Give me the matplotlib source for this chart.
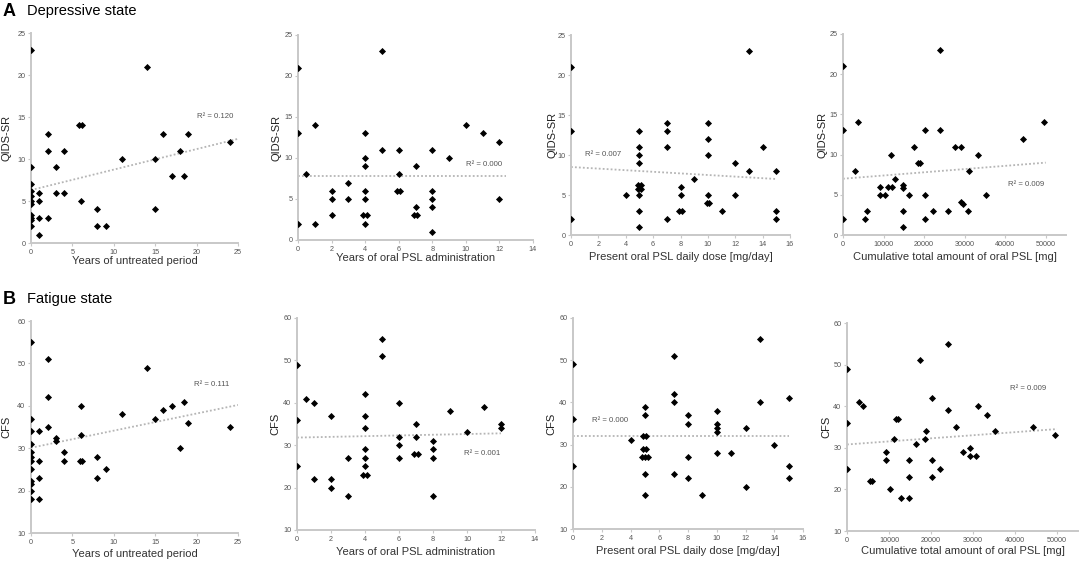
import numpy as np
import matplotlib
matplotlib.use("Agg")
import matplotlib.pyplot as plt

plt.rcParams['font.family'] = ['Liberation Sans', 'DejaVu Sans']

# ---- data ----
# A: QIDS-SR
untreated_a_x = [0, 0, 0, 0, 0, 0, 0, 0, 0, 0, 0,
                 1, 1, 1, 1, 2, 2, 2, 3, 3, 4, 4, 5.8, 6.2, 6,
                 8, 8, 9, 11, 14, 15, 15, 16, 17, 18, 18.5, 19, 24]
untreated_a_y = [23, 9, 7, 6.2, 5.6, 5, 4.6, 3.3, 3, 2.7, 2,
                 6, 5, 3, 1, 13, 11, 3, 9, 6, 11, 6, 14, 14, 5,
                 4, 2, 2, 10, 21, 10, 4, 13, 8, 11, 8, 13, 12]

oral_a_x = [0, 0, 0, 0.5, 1, 1, 2, 2, 2, 3, 3,
            3.9, 4.1, 4, 4, 4, 4, 4, 4, 5, 5, 6, 6, 5.9, 6.1,
            7, 7, 6.9, 7.1, 8, 8, 8, 8, 8, 9, 10, 11, 12, 12]
oral_a_y = [21, 13, 2, 8, 14, 2, 6, 5, 3, 7, 5,
            3, 3, 13, 10, 9, 6, 5, 2, 23, 11, 11, 8, 6, 6,
            9, 4, 3, 3, 11, 6, 5, 4, 1, 10, 14, 13, 12, 5]

dose_a_x = [0, 0, 0, 4, 5, 5, 5, 5, 4.9, 5.1, 4.9, 5.1, 5, 5, 5,
            7, 7, 7, 7, 8, 8, 7.9, 8.1, 9, 10, 10, 10, 10, 9.9, 10.1,
            11, 12, 12, 13, 13, 14, 15, 15, 15]
dose_a_y = [21, 13, 2, 5, 13, 11, 10, 9, 6.2, 6.2, 5.8, 5.8, 5, 3, 1,
            14, 13, 11, 2, 6, 5, 3, 3, 7, 14, 12, 10, 5, 4, 4,
            3, 9, 5, 23, 8, 11, 8, 3, 2]

cum_a_x = [0, 0, 0, 2900, 3700, 5500, 5900, 9200, 9200, 10400, 11100,
           11900, 12200, 12900, 14750, 14750, 14750, 14750, 16300, 17500,
           18400, 18900, 20300, 20300, 20300, 22300, 24000, 24000, 25900,
           27700, 29200, 29100, 29600, 30800, 31100, 33300, 35200, 44400, 49500]
cum_a_y = [21, 13, 2, 8, 14, 2, 3, 6, 5, 5, 6,
           10, 6, 7, 6.2, 5.8, 3, 1, 5, 11,
           8.9, 9, 13, 5, 2, 3, 23, 13, 3,
           11, 11, 4.1, 3.9, 3, 8, 10, 5, 12, 14]

# B: CFS
untreated_b_x = [0, 0, 0, 0, 0, 0, 0, 0, 0, 0, 0, 0,
                 1, 1, 1, 1, 2, 2, 2, 3, 3, 4, 4, 6, 6, 5.9, 6.1,
                 8, 8, 9, 11, 14, 15, 16, 17, 18, 18.5, 19, 24]
untreated_b_y = [55, 37, 34, 31, 29, 28, 27, 25, 22.3, 21.5, 20, 18,
                 34, 27, 23, 18, 51, 42, 35, 32.3, 31.7, 29, 27, 40, 33, 27, 27,
                 28, 23, 25, 38, 49, 37, 39, 40, 30, 41, 36, 35]

oral_b_x = [0, 0, 0, 0.5, 1, 1, 2, 2, 2, 3, 3,
            4, 4, 4, 4, 4, 4, 3.9, 4.1, 5, 5, 6, 6, 6, 6,
            7, 7, 6.9, 7.1, 8, 8, 8, 8, 9, 10, 11, 12, 12]
oral_b_y = [49, 36, 25, 41, 40, 22, 37, 22, 20, 27, 18,
            42, 37, 34, 29, 27, 25, 23, 23, 55, 51, 40, 32, 30, 27,
            35, 32, 28, 28, 31, 29, 27, 18, 38, 33, 39, 35, 34]

dose_b_x = [0, 0, 0, 4, 5, 5, 4.9, 5.1, 4.9, 5.1, 4.8, 5, 5.2, 5, 5,
            7, 7, 7, 7, 8, 8, 8, 8, 9, 10, 10, 10, 10, 10,
            11, 12, 12, 13, 13, 14, 15, 15, 15]
dose_b_y = [49, 36, 25, 31, 39, 37, 32, 32, 29, 29, 27, 27, 27, 23, 18,
            51, 42, 40, 23, 37, 35, 27, 22, 18, 38, 35, 34, 33, 28,
            28, 34, 20, 55, 40, 30, 41, 25, 22]

cum_b_x = [0, 0, 0, 2900, 3700, 5500, 5900, 9200, 9200, 10300, 11100,
           11750, 12200, 12900, 14800, 14800, 14800, 16350, 17460, 18500,
           18900, 20300, 20300, 20300, 22200, 24050, 24050, 25950, 27700,
           29400, 29400, 30800, 31100, 33300, 35200, 44400, 49500]
cum_b_y = [49, 36, 25, 41, 40, 22, 22, 29, 27, 20, 32,
           37, 37, 18, 27, 23, 18, 31, 51, 32,
           34, 42, 27, 23, 25, 55, 39, 35, 29,
           30, 28, 28, 40, 38, 34, 35, 33]

# trend lines: (x start, x end, y start, y end) and R² labels
trend_a = [(0, 25, 6.3, 12.4), (0, 12.4, 7.8, 7.8), (0, 15, 8.5, 7.0), (0, 50000, 7.0, 9.0)]
trend_b = [(0, 25, 30.1, 40.2), (0, 12, 31.8, 32.8), (0, 15, 32.1, 32.1), (0, 50000, 30.8, 34.5)]
r2_a = ["0.120", "0.000", "0.007", "0.009"]
r2_b = ["0.111", "0.001", "0.000", "0.009"]
r2_pos_a = [(24.5, 15.0, 'right'), (10.0, 9.2, 'left'), (1.0, 10.0, 'left'), (40700, 6.3, 'left')]
r2_pos_b = [(24.0, 45.0, 'right'), (9.8, 28.1, 'left'), (1.3, 35.8, 'left'), (38700, 44.2, 'left')]

x_labels = ["Years of untreated period", "Years of oral PSL administration",
            "Present oral PSL daily dose [mg/day]", "Cumulative total amount of oral PSL [mg]"]
x_limits = [(0, 25, 5), (0, 14, 2), (0, 16, 2), (0, 55000, 10000)]

W, H = 1084, 561
fig = plt.figure(figsize=(W / 100, H / 100), dpi=100)

# axes boxes in pixels: left, right, top, bottom
boxes_a = [(31, 238, 33, 243), (298, 533, 35, 240), (571, 790, 35, 235), (843, 1066, 34, 235)]
boxes_b = [(31, 238, 321, 533), (297, 535, 318, 530), (573, 803, 318, 529), (847, 1078, 323, 531)]
# label offsets from the axes edges, pixels (y label left, x label down)
ylab_off_a = [24, 21, 18, 21]
ylab_off_b = [25, 22, 22, 21]
xlab_off_a = [18, 18, 22, 22]
xlab_off_b = [21, 22, 22, 20]

GRAY = "#c8c8c8"
TXT = "#555555"


def make_ax(box):
    l, r, t, b = box
    return fig.add_axes([l / W, 1 - b / H, (r - l) / W, (b - t) / H])


def draw_panel(ax, box, xs, ys, trend, r2, r2pos, xlab, xlim, ylab, ylim, yoff, xoff):
    ax.scatter(xs, ys, marker='D', s=13, color='black', zorder=3, linewidths=0)
    x0, x1, y0, y1 = trend
    ax.plot([x0, x1], [y0, y1], linestyle=(0, (1, 1.2)), color="#b5b5b5", lw=1.3, zorder=2)
    tx, ty, ha = r2pos
    ax.text(tx, ty, "R\u00b2 = " + r2, fontsize=5.6, color=TXT, ha=ha, va='center')
    lo, hi, step = xlim
    ax.set_xlim(lo, hi)
    ax.set_xticks(np.arange(lo, hi + 1, step))
    ax.set_ylim(ylim[0], ylim[1])
    ax.set_yticks(np.arange(ylim[0], ylim[1] + 1, ylim[2]))
    for s in ['top', 'right']:
        ax.spines[s].set_visible(False)
    for s in ['left', 'bottom']:
        ax.spines[s].set_color(GRAY)
        ax.spines[s].set_linewidth(1.4)
    ax.tick_params(labelsize=5.2, colors=TXT, length=2.5, width=0.8, color=GRAY, pad=1.5)
    l, r, t, b = box
    ax.set_xlabel(xlab, fontsize=8, color="#333333", va='center')
    ax.xaxis.set_label_coords(0.5, -xoff / (b - t))
    ax.set_ylabel(ylab, fontsize=8, color="#222222", va='center')
    ax.yaxis.set_label_coords(-yoff / (r - l), 0.5)


row_a = [(untreated_a_x, untreated_a_y), (oral_a_x, oral_a_y), (dose_a_x, dose_a_y), (cum_a_x, cum_a_y)]
row_b = [(untreated_b_x, untreated_b_y), (oral_b_x, oral_b_y), (dose_b_x, dose_b_y), (cum_b_x, cum_b_y)]

for i in range(4):
    ax = make_ax(boxes_a[i])
    draw_panel(ax, boxes_a[i], row_a[i][0], row_a[i][1], trend_a[i], r2_a[i], r2_pos_a[i],
               x_labels[i], x_limits[i], "QIDS-SR", (0, 25, 5), ylab_off_a[i], xlab_off_a[i])
    ax = make_ax(boxes_b[i])
    draw_panel(ax, boxes_b[i], row_b[i][0], row_b[i][1], trend_b[i], r2_b[i], r2_pos_b[i],
               x_labels[i], x_limits[i], "CFS", (10, 60, 10), ylab_off_b[i], xlab_off_b[i])

fig.text(3 / W, 1 - 11 / H, "A", fontsize=13, fontweight='bold', va='center')
fig.text(27 / W, 1 - 11 / H, "Depressive state", fontsize=10.5, va='center')
fig.text(3 / W, 1 - 299 / H, "B", fontsize=13, fontweight='bold', va='center')
fig.text(27 / W, 1 - 299 / H, "Fatigue state", fontsize=10.5, va='center')

fig.savefig("out.png", dpi=100)
